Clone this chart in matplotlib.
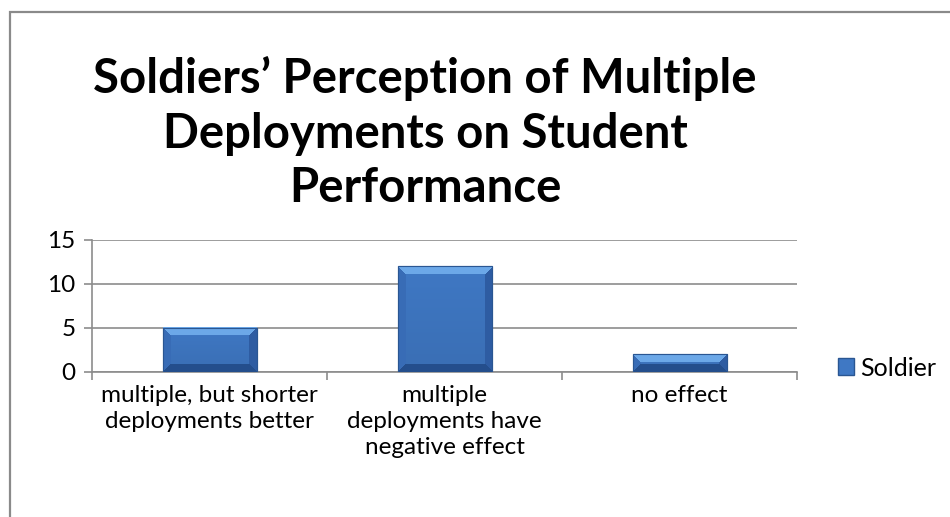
import matplotlib
matplotlib.use("Agg")
import matplotlib.pyplot as plt
import matplotlib.patches as mpatches
import numpy as np

# ── Data ──────────────────────────────────────────────────────────────────────
categories = [
    "multiple, but shorter\ndeployments better",
    "multiple\ndeployments have\nnegative effect",
    "no effect",
]
soldier = [5, 12, 2]
yticks = [0, 5, 10, 15]

BAR_COLOR = "#3F78C4"
BAR_EDGE = "#2A5692"
GRID = "#8C8C8C"
FONT = ["Lato", "DejaVu Sans"]

plt.rcParams["font.family"] = FONT


def bevel_image(w, h, bevel=8):
    """RGB array with a simple bevel shading, shape (h, w, 3)."""
    yy, xx = np.mgrid[0:h, 0:w]
    dt, db = yy, h - 1 - yy
    dl, dr = xx, w - 1 - xx
    d = np.stack([dt, db, dl, dr])
    which = d.argmin(axis=0)
    dmin = d.min(axis=0)
    base = np.array([63, 120, 196]) / 255
    bands = np.array([[108, 168, 232], [36, 78, 140],
                      [56, 108, 182], [46, 92, 162]]) / 255
    img = np.empty((h, w, 3))
    img[:] = base
    mask = dmin < bevel
    img[mask] = bands[which[mask]]
    # slight vertical gradient in the face
    shade = 1.0 - 0.08 * (yy / max(h - 1, 1))
    img[~mask] = img[~mask] * shade[~mask][:, None]
    return np.clip(img, 0, 1)


fig = plt.figure(figsize=(9.5, 5.17), dpi=100)
fig.patch.set_facecolor("white")

# outer chart frame (only top and left visible, image is cropped)
frame = mpatches.Rectangle((10 / 950, -0.1), 1.2, 1 - 12 / 517 + 0.1,
                           transform=fig.transFigure, fill=False,
                           edgecolor="#8A8A8A", linewidth=1.6)
fig.patches.append(frame)

ax = fig.add_axes([92 / 950, 1 - 372 / 517, 705 / 950, 132 / 517])
x = np.arange(len(categories))
bars = ax.bar(x, soldier, width=0.4, color=BAR_COLOR, edgecolor=BAR_EDGE,
              linewidth=0.8, zorder=3, label="Soldier")

ax.set_xlim(-0.5, len(categories) - 0.5)
ax.set_ylim(0, 15)

# bevel shading drawn inside each bar
fig.canvas.draw()
for b in bars:
    ext = b.get_window_extent()
    w, h = max(int(round(ext.width)), 2), max(int(round(ext.height)), 2)
    img = bevel_image(w, h)
    ax.imshow(img, extent=(b.get_x(), b.get_x() + b.get_width(),
                           0, b.get_height()),
              aspect="auto", origin="upper", zorder=4,
              interpolation="nearest")
    ax.add_patch(mpatches.Rectangle((b.get_x(), 0), b.get_width(),
                                    b.get_height(), fill=False,
                                    edgecolor=BAR_EDGE, linewidth=0.8,
                                    zorder=5))
ax.set_xlim(-0.5, len(categories) - 0.5)
ax.set_ylim(0, 15)

ax.set_yticks(yticks)
ax.set_yticklabels([str(t) for t in yticks], fontsize=17.5)
ax.yaxis.grid(True, color=GRID, linewidth=1.2)
ax.set_axisbelow(True)

ax.set_xticks(x)
ax.set_xticklabels(categories, fontsize=17.5, linespacing=1.3)
ax.tick_params(axis="x", length=0, pad=9)
ax.set_xticks(np.arange(len(categories) + 1) - 0.5, minor=True)
ax.tick_params(axis="x", which="minor", length=6, color=GRID, width=1.2)
ax.tick_params(axis="y", length=6, color=GRID, width=1.2, pad=6)

for s in ["top", "right"]:
    ax.spines[s].set_visible(False)
ax.spines["left"].set_color(GRID)
ax.spines["bottom"].set_color(GRID)
ax.spines["left"].set_linewidth(1.2)
ax.spines["bottom"].set_linewidth(1.2)

fig.text(425 / 950, 1 - 133 / 517,
         "Soldiers\u2019 Perception of Multiple\nDeployments on Student\nPerformance",
         ha="center", va="center", fontsize=34, fontweight="bold",
         linespacing=1.28)

handle = mpatches.Patch(facecolor=BAR_COLOR, edgecolor=BAR_EDGE)
fig.legend([handle], ["Soldier"], loc="center left",
           bbox_to_anchor=(838 / 950, 1 - 368 / 517), frameon=False,
           fontsize=18, handlelength=0.65, handleheight=0.65,
           handletextpad=0.25, borderaxespad=0, borderpad=0)

fig.savefig("out.png", dpi=100, facecolor="white")
